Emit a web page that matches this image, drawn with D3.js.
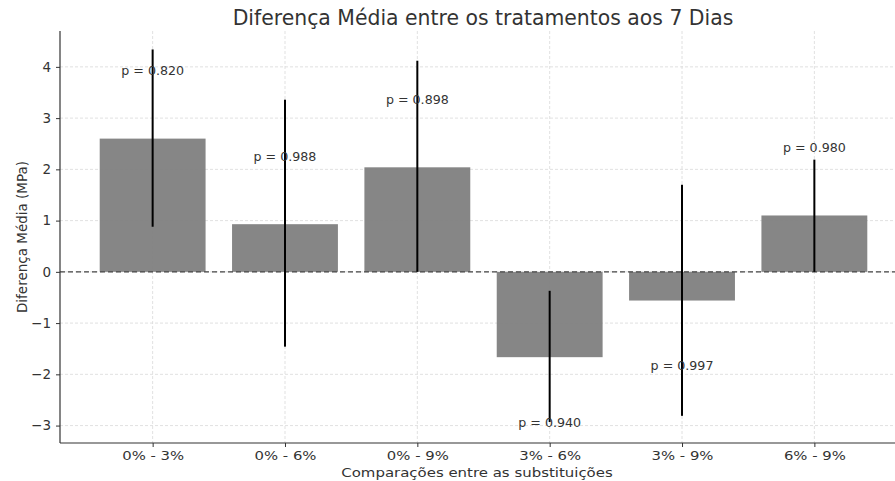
<!DOCTYPE html>
<html>
<head>
<meta charset="utf-8">
<script src="https://cdn.jsdelivr.net/npm/d3@7"></script>
<style>
  html, body { margin: 0; padding: 0; background: #fff; }
  svg { display: block; font-family: "DejaVu Sans", sans-serif; }
</style>
</head>
<body>
<svg id="chart" width="895" height="481"></svg>
<script>
// Pairwise comparisons between substitution levels (7 days)
const comparisons = ["0% - 3%", "0% - 6%", "0% - 9%", "3% - 6%", "3% - 9%", "6% - 9%"];
const meanDiff = [2.60, 0.93, 2.04, -1.665, -0.56, 1.10];
const ciLower = [0.88, -1.46, 0.00, -2.93, -2.81, 0.00];
const ciUpper = [4.34, 3.36, 4.12, -0.37, 1.70, 2.19];
const pValues = ["0.820", "0.988", "0.898", "0.940", "0.997", "0.980"];
const yTicks = [-3, -2, -1, 0, 1, 2, 3, 4];

const svg = d3.select("#chart");

const x = d3.scaleLinear().domain([-0.7, 5.7]).range([60, 907]);
const y = d3.scaleLinear().domain([-3.34, 4.70]).range([443, 31]);
const unit = x(1) - x(0);
const barW = unit * 0.8;

// grid
const grid = svg.append("g");
grid.selectAll("line.gy").data(yTicks).join("line")
  .attr("x1", 60).attr("x2", 895)
  .attr("y1", d => y(d)).attr("y2", d => y(d))
  .attr("stroke", "#d9d9d9").attr("stroke-width", 0.8).attr("stroke-dasharray", "3,2");
grid.selectAll("line.gx").data(comparisons).join("line")
  .attr("x1", (d, i) => x(i)).attr("x2", (d, i) => x(i))
  .attr("y1", 31).attr("y2", 443)
  .attr("stroke", "#d9d9d9").attr("stroke-width", 0.8).attr("stroke-dasharray", "3,2");

// bars
svg.append("g").selectAll("rect").data(meanDiff).join("rect")
  .attr("x", (d, i) => x(i) - barW / 2)
  .attr("width", barW)
  .attr("y", d => y(Math.max(0, d)))
  .attr("height", d => Math.abs(y(d) - y(0)))
  .attr("fill", "#808080")
  .attr("fill-opacity", 0.95);

// zero reference line
svg.append("line")
  .attr("x1", 60).attr("x2", 895)
  .attr("y1", y(0)).attr("y2", y(0))
  .attr("stroke", "#444").attr("stroke-width", 1.2).attr("stroke-dasharray", "5,3");

// confidence intervals
svg.append("g").selectAll("line").data(comparisons).join("line")
  .attr("x1", (d, i) => x(i)).attr("x2", (d, i) => x(i))
  .attr("y1", (d, i) => y(ciLower[i])).attr("y2", (d, i) => y(ciUpper[i]))
  .attr("stroke", "#000").attr("stroke-width", 2);

// p-value annotations
svg.append("g").selectAll("text").data(pValues).join("text")
  .attr("transform", (d, i) =>
    `translate(${x(i)},${y(meanDiff[i] + Math.sign(meanDiff[i]) * 1.3)}) scale(1.1,1)`)
  .attr("text-anchor", "middle").attr("dominant-baseline", "middle")
  .attr("font-size", 11.5).attr("fill", "#333")
  .text(d => "p = " + d);

// axes
const yAxis = d3.axisLeft(y).tickValues(yTicks).tickSize(4).tickPadding(5)
  .tickFormat(d => d < 0 ? "\u2212" + Math.abs(d) : d);
const gy = svg.append("g").attr("transform", "translate(60,0)").call(yAxis);
gy.select(".domain").attr("d", "M0,31V443").attr("stroke", "#333").attr("stroke-width", 1.2);
gy.selectAll(".tick line").attr("stroke", "#333");
gy.selectAll(".tick text").attr("font-size", 13.5).attr("fill", "#333").attr("font-family", "DejaVu Sans");

const xAxis = d3.axisBottom(x).tickValues(d3.range(comparisons.length)).tickSize(4)
  .tickFormat(i => comparisons[i]);
const gx = svg.append("g").attr("transform", "translate(0,443)").call(xAxis);
gx.select(".domain").attr("d", "M60,0H895").attr("stroke", "#333").attr("stroke-width", 1.2);
gx.selectAll(".tick line").attr("stroke", "#333");
gx.selectAll(".tick text")
  .attr("y", 0).attr("dy", 0)
  .attr("transform", "translate(0,17) scale(1.19,1)")
  .attr("font-size", 12.5).attr("fill", "#333").attr("font-family", "DejaVu Sans");

// labels
svg.append("text").attr("x", 483).attr("y", 25).attr("text-anchor", "middle")
  .attr("font-size", 20.4).attr("fill", "#333").text("Diferença Média entre os tratamentos aos 7 Dias");
svg.append("text").attr("transform", "translate(477,477) scale(1.15,1)").attr("text-anchor", "middle")
  .attr("font-size", 13).attr("fill", "#333").text("Comparações entre as substituições");
svg.append("text").attr("transform", "translate(27,237) rotate(-90)").attr("text-anchor", "middle")
  .attr("font-size", 13.5).attr("fill", "#333").text("Diferença Média (MPa)");
</script>
</body>
</html>
